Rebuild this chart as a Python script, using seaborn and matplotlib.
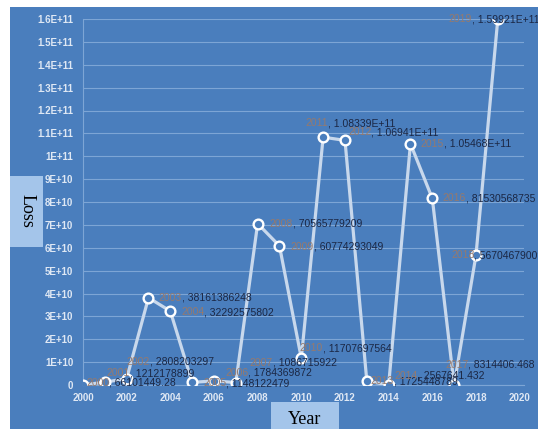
import math
import matplotlib
matplotlib.use("Agg")
import matplotlib.pyplot as plt
import seaborn as sns
import pandas as pd
from matplotlib.offsetbox import TextArea, HPacker, AnnotationBbox
from matplotlib.ticker import FuncFormatter, MultipleLocator
from matplotlib.patches import Rectangle

# ---- data ----
years = list(range(2000, 2020))
losses = [66101449.28, 1212178899, 2808203297, 38161386248, 32292575802,
          1148122479, 1784369872, 1086715922, 70565779209, 60774293049,
          11707697564, 1.08339e11, 1.06941e11, 1725448789, 2567641.432,
          1.05468e11, 81530568735, 8314406.468, 56704679009, 1.59921e11]
x_title = "Year"
y_title = "Loss"

# label offsets in pixels (style only)
label_offsets = [(3, 2), (2, 9), (0, 17), (10, 0), (11, -1), (11, -1), (11, 8),
                 (14, 20), (12, 0), (11, -1), (-2, 10), (-18, 14), (3, 8),
                 (4, 0), (6, 9), (10, 0), (10, 0), (-9, 20), (-25, 0), (-49, 0)]

BG = "#4a7ebd"
LINE = "#c8d8ec"
GRID = "#7da5d5"
YEARC = "#957a6e"
VALC = "#1b2744"

df = pd.DataFrame({"Year": years, "Loss": losses})

W, H = 538, 429
fig = plt.figure(figsize=(W / 100, H / 100), dpi=100)
fig.patch.set_facecolor("white")
fig.patches.append(Rectangle((10 / W, 0), 1, 1 - 7 / H, transform=fig.transFigure,
                             facecolor=BG, edgecolor="none", zorder=-2))

ax = fig.add_axes([83 / W, (H - 385) / H, (524 - 83) / W, (385 - 19) / H])
ax.set_facecolor("none")
ax.set_zorder(3)

sns.lineplot(data=df, x="Year", y="Loss", ax=ax, color=LINE, linewidth=2.3,
             marker="o", markersize=7, markerfacecolor=BG,
             markeredgecolor="white", markeredgewidth=1.7, zorder=3)

ax.set_xlim(2000, 2020.2)
ax.set_ylim(0, 1.6e11)
ax.xaxis.set_major_locator(MultipleLocator(2))
ax.yaxis.set_major_locator(MultipleLocator(1e10))


def yfmt(v, pos):
    if v < 1:
        return "0" if abs(v) < 1 else ""
    e = int(math.floor(math.log10(v) + 1e-9))
    m = v / 10 ** e
    return f"{m:.1f}".rstrip("0").rstrip(".") + f"E+{e:02d}"


ax.yaxis.set_major_formatter(FuncFormatter(yfmt))
ax.xaxis.set_major_formatter(FuncFormatter(lambda v, p: f"{int(round(v))}"))
ax.grid(axis="y", color=GRID, linewidth=0.8)
ax.grid(axis="x", visible=False)
ax.set_axisbelow(True)
for s in ["top", "right"]:
    ax.spines[s].set_visible(False)
for s in ["left", "bottom"]:
    ax.spines[s].set_color(GRID)
    ax.spines[s].set_linewidth(0.8)
ax.tick_params(axis="both", length=0, colors="#dfe8f4", labelsize=7)
ax.tick_params(axis="y", pad=7)
ax.tick_params(axis="x", pad=6)
for t in ax.get_xticklabels() + ax.get_yticklabels():
    t.set_fontweight("bold")
    t.set_fontfamily("Liberation Sans")
ax.set_xlabel("")
ax.set_ylabel("")


def fmt_val(v):
    if v >= 1e11:
        return f"{v:.5E}"
    return f"{v:.11g}"


for yr, v, (dx, dy) in zip(years, losses, label_offsets):
    t1 = TextArea(str(yr), textprops=dict(color=YEARC, fontsize=7.5, family="Liberation Sans"))
    t2 = TextArea(", " + fmt_val(v), textprops=dict(color=VALC, fontsize=7.5, family="Liberation Sans"))
    box = HPacker(children=[t1, t2], align="baseline", pad=0, sep=0)
    ab = AnnotationBbox(box, (yr, v), xybox=(dx, dy), xycoords="data",
                        boxcoords="offset pixels", box_alignment=(0, 0.5),
                        frameon=False, pad=0, annotation_clip=False, zorder=4)
    ax.add_artist(ab)

# axis title boxes
fig.patches.append(Rectangle((10 / W, (H - 247) / H), 33 / W, 71 / H,
                             transform=fig.transFigure, facecolor="#a4c5ea",
                             edgecolor="none", zorder=-1))
fig.text(27 / W, (H - 211) / H, y_title, rotation=270, ha="center", va="center",
         fontsize=13, family="Liberation Serif", color="black")
fig.patches.append(Rectangle((271 / W, 0), 68 / W, 27 / H,
                             transform=fig.transFigure, facecolor="#a4c5ea",
                             edgecolor="none", zorder=-1))
fig.text(305 / W, (H - 419) / H, x_title, ha="center", va="center",
         fontsize=13, family="Liberation Serif", color="black")

fig.savefig("out.png", dpi=100, facecolor=fig.get_facecolor())
